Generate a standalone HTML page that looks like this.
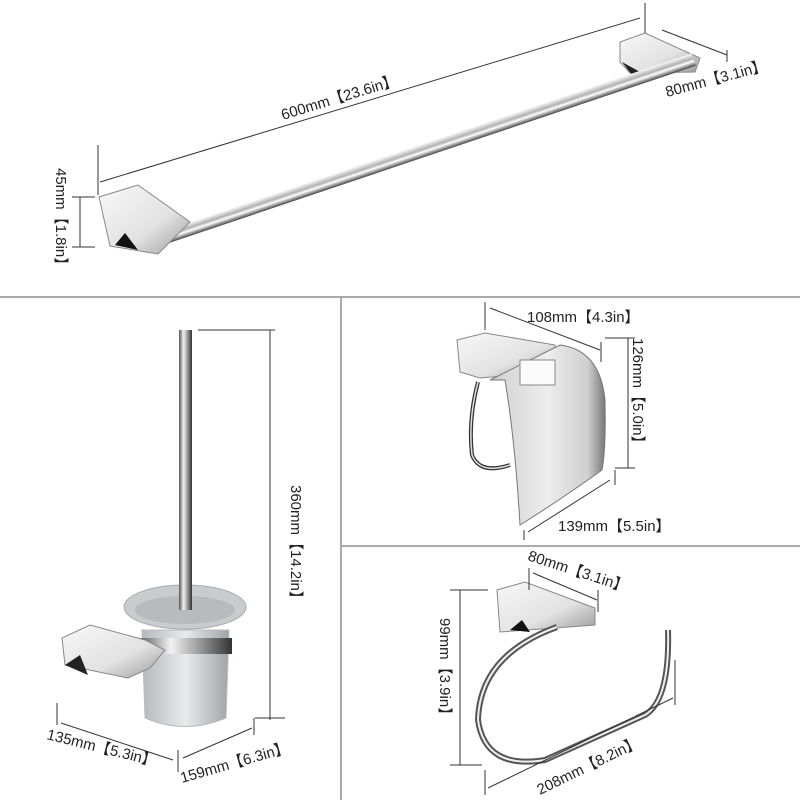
<!DOCTYPE html>
<html><head><meta charset="utf-8"><style>
html,body{margin:0;padding:0;background:#fff}
svg{display:block}
text{font-family:"Liberation Sans",sans-serif;font-size:15px;fill:#222}
</style></head><body>
<svg width="800" height="800" viewBox="0 0 800 800" xmlns="http://www.w3.org/2000/svg">
<defs>
<linearGradient id="ch" x1="0" y1="0" x2="0" y2="1">
<stop offset="0" stop-color="#fafafa"/><stop offset="0.4" stop-color="#b0b0b0"/><stop offset="0.6" stop-color="#ffffff"/><stop offset="1" stop-color="#444"/></linearGradient>
<linearGradient id="chv" x1="0" y1="0" x2="1" y2="0">
<stop offset="0" stop-color="#555"/><stop offset="0.35" stop-color="#f2f2f2"/><stop offset="0.6" stop-color="#aaa"/><stop offset="1" stop-color="#333"/></linearGradient>
<linearGradient id="fr" x1="0" y1="0" x2="1" y2="0">
<stop offset="0" stop-color="#b5b9bc"/><stop offset="0.5" stop-color="#e8eaec"/><stop offset="1" stop-color="#a0a4a7"/></linearGradient>
<linearGradient id="pl" x1="0" y1="0" x2="1" y2="1">
<stop offset="0" stop-color="#f8f8f8"/><stop offset="0.6" stop-color="#e2e2e2"/><stop offset="1" stop-color="#9a9a9a"/></linearGradient>
<linearGradient id="cv" x1="0" y1="0" x2="1" y2="0">
<stop offset="0" stop-color="#d0d0d0"/><stop offset="0.5" stop-color="#ededed"/><stop offset="0.85" stop-color="#cfcfcf"/><stop offset="1" stop-color="#777"/></linearGradient>
</defs>
<g stroke="#aaa" stroke-width="2">
<line x1="0" y1="297" x2="800" y2="297"/>
<line x1="341" y1="297" x2="341" y2="800"/>
<line x1="341" y1="546" x2="800" y2="546"/>
</g>
<!-- towel bar -->
<path d="M620 42 L645 33 L700 58 L695 72 L630 73 L620 62 Z" fill="url(#pl)" stroke="#888"/>
<path d="M622 62 L640 72 L632 75 Z" fill="#222"/>
<g transform="rotate(-18.6 160 245)"><rect x="150" y="233" width="575" height="13" fill="url(#ch)"/></g>
<path d="M99 197 L138 185 L190 222 L158 254 L110 246 Z" fill="url(#pl)" stroke="#888"/>
<path d="M115 245 L125 233 L138 250 Z" fill="#111"/>
<g stroke="#333" stroke-width="1" fill="none">
<line x1="98" y1="145" x2="98" y2="195"/><line x1="100" y1="182" x2="640" y2="18"/><line x1="645" y1="3" x2="645" y2="33"/>
<line x1="662" y1="30" x2="727" y2="55"/><line x1="727" y1="50" x2="727" y2="62"/>
<line x1="80" y1="197" x2="80" y2="247"/><line x1="72" y1="197" x2="95" y2="197"/><line x1="72" y1="247" x2="95" y2="247"/>
</g>
<text transform="translate(283 120) rotate(-17)">600mm【23.6in】</text>
<text transform="translate(667 97) rotate(-15)">80mm【3.1in】</text>
<text transform="translate(56 168) rotate(90)">45mm【1.8in】</text>
<!-- toilet brush -->
<rect x="179" y="330" width="13" height="290" fill="url(#chv)"/>
<path d="M142 630 L229 630 L226 718 Q185 735 145 718 Z" fill="url(#fr)" stroke="#bbb"/>
<rect x="138" y="638" width="94" height="16" fill="url(#chv)"/>
<ellipse cx="185" cy="607" rx="61" ry="22" fill="#c9cccf" stroke="#aaa"/>
<ellipse cx="185" cy="610" rx="50" ry="14" fill="#b8bbbe"/>
<rect x="179" y="570" width="13" height="40" fill="url(#chv)"/>
<path d="M62 638 L90 625 L145 640 L165 650 L150 668 L128 678 L65 665 Z" fill="url(#pl)" stroke="#888"/>
<path d="M65 665 L80 655 L88 675 Z" fill="#222"/>
<g stroke="#333" stroke-width="1" fill="none">
<line x1="198" y1="330" x2="275" y2="330"/><line x1="270" y1="330" x2="270" y2="720"/><line x1="255" y1="718" x2="285" y2="718"/>
<line x1="57" y1="703" x2="57" y2="725"/><line x1="61" y1="723" x2="173" y2="760"/><line x1="178" y1="750" x2="178" y2="772"/>
<line x1="183" y1="758" x2="252" y2="728"/><line x1="254" y1="718" x2="254" y2="735"/>
</g>
<text transform="translate(46 739) rotate(14)">135mm【5.3in】</text>
<text transform="translate(182 783) rotate(-16)">159mm【6.3in】</text>
<text transform="translate(291 485) rotate(90)">360mm【14.2in】</text>
<!-- paper holder -->
<path d="M457 340 L485 333 L555 345 L555 372 L480 378 L460 372 Z" fill="url(#pl)" stroke="#888"/>
<path d="M478 382 Q468 420 472 455 Q480 475 510 465" fill="none" stroke="#333" stroke-width="4"/>
<path d="M478 382 Q468 420 472 455 Q480 475 510 465" fill="none" stroke="#ddd" stroke-width="1.5"/>
<path d="M490 380 L560 345 Q600 350 605 400 Q606 450 602 470 Q560 500 520 525 Q515 440 505 380 Z" fill="url(#cv)" stroke="#777"/>
<rect x="520" y="360" width="35" height="25" fill="#fafafa" stroke="#888"/>
<g stroke="#333" stroke-width="1" fill="none">
<line x1="485" y1="302" x2="485" y2="330"/><line x1="490" y1="308" x2="600" y2="350"/><line x1="601" y1="342" x2="601" y2="362"/>
<line x1="605" y1="338" x2="635" y2="338"/><line x1="628" y1="338" x2="628" y2="468"/><line x1="615" y1="468" x2="635" y2="468"/>
<line x1="524" y1="530" x2="524" y2="540"/><line x1="528" y1="532" x2="610" y2="480"/><line x1="615" y1="470" x2="615" y2="485"/>
</g>
<text x="527" y="322">108mm【4.3in】</text>
<text transform="translate(633 338) rotate(90)">126mm【5.0in】</text>
<text x="558" y="531">139mm【5.5in】</text>
<!-- towel ring -->
<path d="M497 590 L525 582 L595 608 L595 625 L555 628 L500 632 Z" fill="url(#pl)" stroke="#888"/>
<path d="M510 630 L522 620 L530 632 Z" fill="#111"/>
<path d="M557 627 Q480 655 478 720 Q485 770 545 760 L645 715 Q670 700 668 630" fill="none" stroke="#555" stroke-width="6"/>
<path d="M557 627 Q480 655 478 720 Q485 770 545 760 L645 715 Q670 700 668 630" fill="none" stroke="#eee" stroke-width="2"/>
<g stroke="#333" stroke-width="1" fill="none">
<line x1="529" y1="568" x2="529" y2="590"/><line x1="533" y1="573" x2="597" y2="600"/><line x1="598" y1="590" x2="598" y2="612"/>
<line x1="450" y1="590" x2="488" y2="590"/><line x1="460" y1="590" x2="460" y2="765"/><line x1="450" y1="765" x2="482" y2="765"/>
<line x1="485" y1="770" x2="485" y2="795"/><line x1="488" y1="788" x2="673" y2="698"/><line x1="675" y1="660" x2="675" y2="705"/>
</g>
<text transform="translate(527 560) rotate(18)">80mm【3.1in】</text>
<text transform="translate(440 618) rotate(90)">99mm【3.9in】</text>
<text transform="translate(540 795) rotate(-26)">208mm【8.2in】</text>
</svg>
</body></html>
